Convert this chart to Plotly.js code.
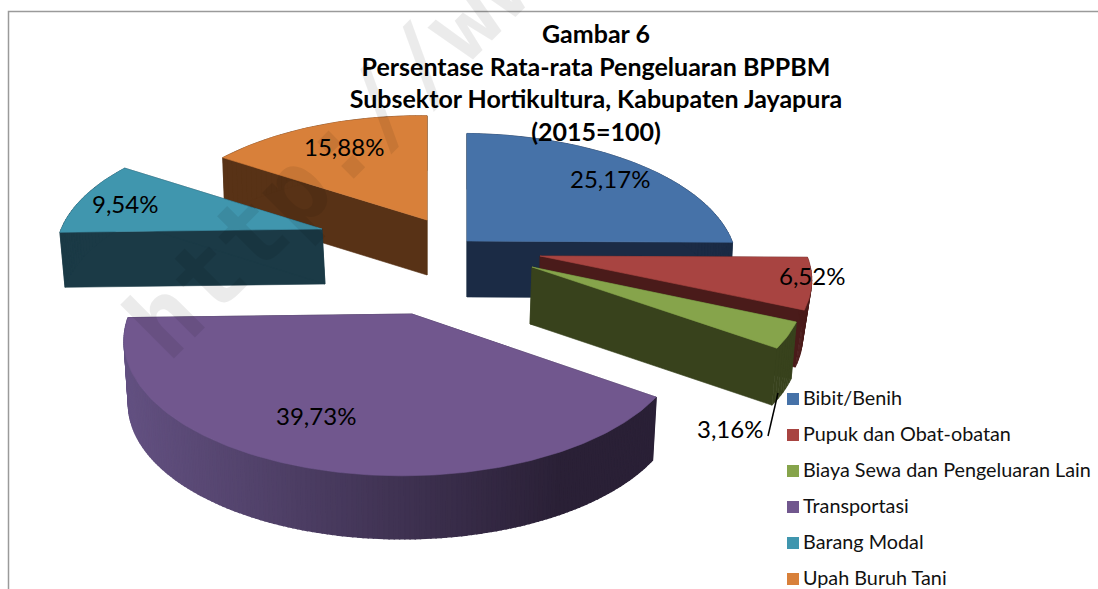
<!DOCTYPE html>
<html><head><meta charset="utf-8">
<script src="https://cdn.plot.ly/plotly-3.0.1.min.js"></script>
<style>html,body{margin:0;padding:0;background:#fff;overflow:hidden}</style>
</head><body><div id="chart" style="width:1098px;height:589px"></div>
<script>
// ---- data ----
var categories = ["Bibit/Benih","Pupuk dan Obat-obatan","Biaya Sewa dan Pengeluaran Lain","Transportasi","Barang Modal","Upah Buruh Tani"];
var percentValues = [25.17,6.52,3.16,39.73,9.54,15.88];
var percentLabels = ["25,17%","6,52%","3,16%","39,73%","9,54%","15,88%"];
var titleLines = ["Gambar 6","Persentase Rata-rata Pengeluaran BPPBM","Subsektor Hortikultura, Kabupaten Jayapura","(2015=100)"];

// ---- styles and exploded-3D geometry ----
var topColors  = ["#4672A8","#A84441","#86A44B","#71578E","#4096AE","#D8803A"];
var wallColors = ["#1B2B45","#4A1B1A","#38421C","#5E4B7A","#1B3A46","#583216"];
var slicePlace = [
 {cx:467,cy:241,rx:273,ry:128,dy:56,dx:0,s:0.99},
 {cx:540,cy:256,rx:275,ry:126,dy:57,dx:0,s:0.966},
 {cx:532,cy:267,rx:275,ry:128,dy:57,dx:-2,s:0.988},
 {cx:412,cy:314,rx:274,ry:131,dy:63,dx:0,s:0.985},
 {cx:322,cy:229,rx:253,ry:121,dy:55,dx:3,s:0.992},
 {cx:427,cy:220,rx:262,ry:124,dy:55,dx:0,s:0.99}
];
var labelPlace = [[610,178],[812,275],[730,428],[316,415],[125,203],[344,146]];
var drawOrder = [5,4,0,1,2,3];
var perspK = 0.19, perspM = 0.03;
var FONT = "Lato, Carlito, 'Open Sans', sans-serif";

function proj(p, t, r, bottom){
  var u = Math.sin(t)*r, v = -Math.cos(t)*r;
  var w = 1 - perspK*v + perspM*u;
  var ox = p.rx*u/w, oy = p.ry*v/w;
  if(bottom) return [p.cx + p.dx + p.s*ox, p.cy + p.dy + oy];
  return [p.cx + ox, p.cy + oy];
}
function poly(pts, color, lw){
  var c = pts.concat([pts[0]]);
  return {type:"scatter",mode:"lines",x:c.map(function(q){return q[0]}),y:c.map(function(q){return q[1]}),
    fill:"toself",fillcolor:color,line:{color:color,width:lw||0.6},hoverinfo:"skip",showlegend:false};
}
function mix(a,b,f){ return "rgb("+[0,1,2].map(function(i){return Math.round(a[i]+(b[i]-a[i])*f)}).join(",")+")"; }

var start = [], acc = 0;
percentValues.forEach(function(v){ start.push(acc); acc += v; });
var TOTAL = acc, traces = [];

drawOrder.forEach(function(i){
  var p = slicePlace[i];
  var t0 = start[i]/TOTAL*2*Math.PI, t1 = (start[i]+percentValues[i])/TOTAL*2*Math.PI;
  var n = Math.max(8, Math.round(percentValues[i]*(i===3?4:2.4))), k, a;
  var arcTop = [], arcBot = [];
  for(k=0;k<=n;k++){ a = t0+(t1-t0)*k/n; arcTop.push(proj(p,a,1,false)); arcBot.push(proj(p,a,1,true)); }
  var apexT = proj(p,0,0,false), apexB = proj(p,0,0,true);
  traces.push(poly([apexT,arcTop[0],arcBot[0],apexB], i===3?"#3a2c4c":wallColors[i]));
  traces.push(poly([apexT,arcTop[n],arcBot[n],apexB], i===3?"#2A2036":wallColors[i]));
  for(k=0;k<n;k++){
    if(i===3){
      var f = Math.min(1, Math.max(0, (arcTop[n-k][0]-130)/430));
      traces.push(poly([arcTop[n-k],arcTop[n-k-1],arcBot[n-k-1],arcBot[n-k]],mix([98,80,128],[42,32,54],f),1.5));
    } else {
      traces.push(poly([arcTop[k],arcTop[k+1],arcBot[k+1],arcBot[k]],wallColors[i]));
    }
  }
  traces.push(poly([apexT].concat(arcTop), topColors[i]));
});

// leader line of the small slice
traces.push({type:"scatter",mode:"lines",x:[778,768],y:[393,436],line:{color:"#000",width:1.5},hoverinfo:"skip",showlegend:false});

// legend
var legendY = [399,435,471,507,543,579];
traces.push({type:"scatter",mode:"markers",x:categories.map(function(){return 793}),y:legendY,
  marker:{symbol:"square",size:12,color:topColors},hoverinfo:"skip",showlegend:false,cliponaxis:false});
traces.push({type:"scatter",mode:"text",x:categories.map(function(){return 803}),y:legendY.map(function(v){return v+1}),text:categories,
  textposition:"middle right",textfont:{family:FONT,size:19.8,color:"#111"},hoverinfo:"skip",showlegend:false,cliponaxis:false});

var annotations = percentLabels.map(function(s,i){
  return {x:labelPlace[i][0],y:labelPlace[i][1],xref:"x",yref:"y",text:s,showarrow:false,
    font:{family:FONT,size:24,color:"#000"},xanchor:"center",yanchor:"middle"};
});
annotations.push({x:356,y:127,xref:"x",yref:"y",text:"<b>http://www</b>",showarrow:false,textangle:-45,
  font:{family:"'DejaVu Sans Mono',monospace",size:100,color:"rgba(0,0,0,0.08)"},xanchor:"center",yanchor:"middle"});

var layout = {
  width:1098,height:589,margin:{l:0,r:0,t:0,b:0},paper_bgcolor:"#fff",plot_bgcolor:"#fff",showlegend:false,
  xaxis:{range:[0,1098],visible:false,fixedrange:true},
  yaxis:{range:[589,0],visible:false,fixedrange:true},
  title:{text:titleLines.join("<br>"),x:596/1098,xanchor:"center",y:1-43/589,yanchor:"top",
    font:{family:FONT,size:25,weight:700,color:"#000"}},
  annotations:annotations,
  shapes:[{type:"path",path:"M8.5,589 L8.5,11.5 L1100,11.5",line:{color:"#9a9a9a",width:1.5},layer:"above"}]
};
Plotly.newPlot("chart",traces,layout,{displayModeBar:false,staticPlot:true});
</script></body></html>
